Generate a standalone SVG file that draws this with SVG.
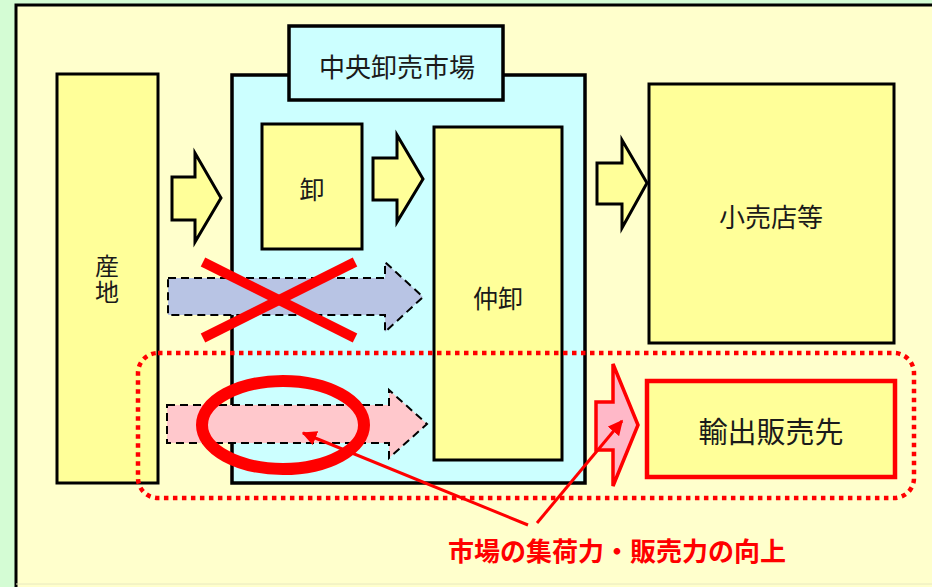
<svg xmlns="http://www.w3.org/2000/svg" width="932" height="587" viewBox="0 0 932 587">
<style>
.box{fill:#ffff99;stroke:#000;stroke-width:3}
.cyan{fill:#ccffff;stroke:#000;stroke-width:3.5}
.t{font-family:"Noto Sans CJK JP","Noto Sans CJK SC",sans-serif;fill:#1a1a1a;text-anchor:middle;dominant-baseline:central}
.yarrow{fill:#ffff99;stroke:#000;stroke-width:3;stroke-linejoin:miter}
.dash{stroke:#000;stroke-width:2;stroke-dasharray:8 5}
.red{stroke:#ff0000;fill:none}
</style>
<defs>
<marker id="ah" viewBox="0 0 10 10" refX="9" refY="5" markerWidth="5" markerHeight="5" orient="auto" markerUnits="strokeWidth">
<path d="M0,0 L10,5 L0,10 z" fill="#ff0000"/>
</marker>
</defs>
<rect width="932" height="587" fill="#d4fcd4"/>
<rect x="16" y="5" width="930" height="590" fill="#ffffcc" stroke="#000" stroke-width="3"/>
<line x1="16" y1="584" x2="932" y2="584" stroke="#e8e8c0" stroke-width="1"/>

<g id="sanchi">
<rect class="box" x="57" y="74" width="101" height="409"/>
<text class="t" x="107" y="280" font-size="24" writing-mode="vertical-rl" letter-spacing="2">産地</text>
</g>

<g id="market">
<rect class="cyan" x="232" y="75" width="353" height="408"/>
<rect class="cyan" x="289" y="26" width="214" height="74"/>
<text class="t" x="397" y="65" font-size="26">中央卸売市場</text>
</g>

<g id="oroshi">
<rect class="box" x="262" y="124" width="100" height="125"/>
<text class="t" x="312" y="188" font-size="25">卸</text>
</g>

<g id="nakaoroshi">
<rect class="box" x="434" y="127" width="128" height="333"/>
<text class="t" x="498" y="297" font-size="25">仲卸</text>
</g>

<g id="kouri">
<rect class="box" x="649" y="84" width="245" height="259"/>
<text class="t" x="771" y="215" font-size="26">小売店等</text>
</g>

<g id="export">
<rect x="647" y="381" width="248" height="96" fill="#ffff99" stroke="#ff0000" stroke-width="4.5"/>
<text class="t" x="771" y="430" font-size="29">輸出販売先</text>
</g>

<g id="connectors">
<polygon class="yarrow" points="172,177 195,177 195,153 221,198 195,242 195,220 172,220"/>
<polygon class="yarrow" points="373,158 397,158 397,135 423,179 397,222 397,200 373,200"/>
<polygon class="yarrow" points="597,163 622,163 622,140 647,183 622,228 622,204 597,204"/>

<polygon class="dash" fill="#b8c4e4" points="168,278 385,278 385,262 423,297 385,332 385,315 168,315"/>
<line x1="203" y1="262" x2="355" y2="338" stroke="#ff0000" stroke-width="10"/>
<line x1="355" y1="262" x2="203" y2="338" stroke="#ff0000" stroke-width="10"/>

<polygon class="dash" fill="#ffc8cc" points="167,405 389,405 389,390 427,424 389,458 389,443 167,443"/>
<ellipse class="red" cx="283" cy="425" rx="81" ry="44" stroke-width="12"/>

<polygon points="596,402 613,402 613,364 638,425 613,486 613,450 596,450" fill="#ffb8c8" stroke="#ff0000" stroke-width="3.5" stroke-linejoin="miter"/>

<rect x="138" y="353" width="776" height="145" rx="20" ry="20" fill="none" stroke="#ff0000" stroke-width="4.5" stroke-dasharray="4.5 4.5"/>

<line class="red" x1="528" y1="525" x2="303" y2="433" stroke-width="3" marker-end="url(#ah)"/>
<line class="red" x1="537" y1="523" x2="622" y2="421" stroke-width="3" marker-end="url(#ah)"/>
</g>

<text x="617" y="549" font-family="'Noto Sans CJK JP','Noto Sans CJK SC',sans-serif" font-size="26" font-weight="bold" fill="#ff0000" text-anchor="middle" dominant-baseline="central">市場の集荷力・販売力の向上</text>
</svg>
